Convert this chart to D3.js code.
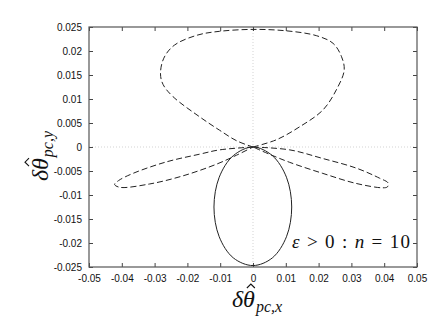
<!DOCTYPE html>
<html>
<head>
<meta charset="utf-8">
<script src="https://cdn.jsdelivr.net/npm/d3@7"></script>
<style>
  body { margin: 0; background: #fff; }
  svg { display: block; }
</style>
</head>
<body>
<div id="chart"></div>
<script>
var width = 436;
var height = 327;
var plotLeft = 89, plotRight = 417, plotTop = 27, plotBottom = 267;

var xTicks = [-0.05, -0.04, -0.03, -0.02, -0.01, 0, 0.01, 0.02, 0.03, 0.04, 0.05];
var xTickLabels = ["-0.05", "-0.04", "-0.03", "-0.02", "-0.01", "0", "0.01", "0.02", "0.03", "0.04", "0.05"];
var yTicks = [0.025, 0.02, 0.015, 0.01, 0.005, 0, -0.005, -0.01, -0.015, -0.02, -0.025];
var yTickLabels = ["0.025", "0.02", "0.015", "0.01", "0.005", "0", "-0.005", "-0.01", "-0.015", "-0.02", "-0.025"];

// dashed petal above the origin
var upperLobe = [[0, 0], [0.0071, 0.0015], [0.0142, 0.0042], [0.0213, 0.0077], [0.0254, 0.0119],
	[0.0278, 0.0160], [0.0270, 0.0188], [0.0244, 0.0216], [0.0193, 0.0232], [0.0102, 0.0242],
	[0, 0.0245], [-0.0102, 0.0241], [-0.0170, 0.0233], [-0.0240, 0.0212], [-0.0272, 0.0185],
	[-0.0282, 0.0152], [-0.0274, 0.0130], [-0.0244, 0.0105], [-0.0163, 0.0063], [-0.0102, 0.0035],
	[-0.0050, 0.0013], [0, 0]];
// dashed petals below the origin
var leftLobe = [[0, 0], [-0.0102, -0.0006], [-0.0163, -0.0015], [-0.0264, -0.0031], [-0.0366, -0.0055],
	[-0.0410, -0.0070], [-0.0422, -0.0078], [-0.0406, -0.0084], [-0.0315, -0.0077], [-0.0213, -0.0060],
	[-0.0112, -0.0036], [-0.0050, -0.0017], [0, 0]];
var rightLobe = [[0, 0], [0.0112, -0.0006], [0.0213, -0.0024], [0.0315, -0.0044], [0.0386, -0.0065],
	[0.0412, -0.0075], [0.0410, -0.0083], [0.0396, -0.0085], [0.0315, -0.0076], [0.0213, -0.0055],
	[0.0112, -0.0032], [0.0050, -0.0015], [0, 0]];
// solid loop
var solidLoop = [[0, 0], [0.0059, -0.0018], [0.0102, -0.0063], [0.0118, -0.0125], [0.0102, -0.0187],
	[0.0059, -0.0231], [0, -0.0247], [-0.0060, -0.0231], [-0.0103, -0.0187], [-0.0119, -0.0125],
	[-0.0103, -0.0063], [-0.0060, -0.0018]];

var svg = d3.select("#chart").append("svg")
	.attr("width", width)
	.attr("height", height);

var x = d3.scaleLinear().domain([-0.05, 0.05]).range([plotLeft, plotRight]);
var y = d3.scaleLinear().domain([-0.025, 0.025]).range([plotBottom, plotTop]);

// zero lines
svg.append("line")
	.attr("x1", x(0)).attr("x2", x(0)).attr("y1", plotTop).attr("y2", plotBottom)
	.attr("stroke", "#c8c8c8").attr("stroke-width", 0.8).attr("stroke-dasharray", "1,2");
svg.append("line")
	.attr("x1", plotLeft).attr("x2", plotRight).attr("y1", y(0)).attr("y2", y(0))
	.attr("stroke", "#c8c8c8").attr("stroke-width", 0.8).attr("stroke-dasharray", "1,2");

// axes with inward ticks
function styleAxis(g)
{
	g.select(".domain").remove();
	g.selectAll(".tick line").attr("stroke", "#444");
	g.selectAll(".tick text")
		.attr("fill", "#111")
		.style("font-family", "'Liberation Sans', Arial, sans-serif")
		.style("font-size", "10px");
}

svg.append("g")
	.attr("transform", "translate(0," + plotBottom + ")")
	.call(d3.axisBottom(x).tickValues(xTicks).tickSize(-4).tickPadding(8)
		.tickFormat(function (d, i) { return xTickLabels[i]; }))
	.call(styleAxis);
svg.append("g")
	.attr("transform", "translate(0," + plotTop + ")")
	.call(d3.axisTop(x).tickValues(xTicks).tickSize(-4).tickFormat(""))
	.call(styleAxis);
svg.append("g")
	.attr("transform", "translate(" + plotLeft + ",0)")
	.call(d3.axisLeft(y).tickValues(yTicks).tickSize(-4).tickPadding(7)
		.tickFormat(function (d, i) { return yTickLabels[i]; }))
	.call(styleAxis);
svg.append("g")
	.attr("transform", "translate(" + plotRight + ",0)")
	.call(d3.axisRight(y).tickValues(yTicks).tickSize(-4).tickFormat(""))
	.call(styleAxis);

// frame
svg.append("rect")
	.attr("x", plotLeft).attr("y", plotTop)
	.attr("width", plotRight - plotLeft).attr("height", plotBottom - plotTop)
	.attr("fill", "none").attr("stroke", "#555").attr("stroke-width", 1.2);

var openLine = d3.line()
	.x(function (d) { return x(d[0]); })
	.y(function (d) { return y(d[1]); })
	.curve(d3.curveCatmullRom.alpha(0.5));
var closedLine = d3.line()
	.x(function (d) { return x(d[0]); })
	.y(function (d) { return y(d[1]); })
	.curve(d3.curveCatmullRomClosed.alpha(0.5));

svg.selectAll("path.lobe")
	.data([upperLobe, leftLobe, rightLobe])
	.enter()
	.append("path")
	.attr("class", "lobe")
	.attr("d", openLine)
	.attr("fill", "none")
	.attr("stroke", "#222")
	.attr("stroke-width", 1)
	.attr("stroke-dasharray", "6,3");

svg.append("path")
	.attr("d", closedLine(solidLoop))
	.attr("fill", "none")
	.attr("stroke", "#222")
	.attr("stroke-width", 1);

// annotation
var note = svg.append("text")
	.attr("x", 292).attr("y", 248)
	.attr("textLength", 118).attr("lengthAdjust", "spacing")
	.style("font-family", "'Liberation Serif', 'DejaVu Serif', serif")
	.style("font-size", "19px")
	.attr("fill", "#111");
note.append("tspan").style("font-style", "italic").text("ε");
note.append("tspan").text(" > 0 : ");
note.append("tspan").style("font-style", "italic").text("n");
note.append("tspan").text(" = 10");

// axis titles: delta theta with a hat, and a subscript
function addTitle(g, sub)
{
	var font = "'Liberation Serif', 'DejaVu Serif', serif";
	var inner = g.append("g");
	var main = inner.append("text")
		.style("font-family", font).style("font-style", "italic").style("font-size", "24px")
		.attr("fill", "#111")
		.text("δθ");
	var w = main.node().getComputedTextLength();
	var subText = inner.append("text")
		.attr("x", w + 1).attr("y", 5)
		.style("font-family", font).style("font-style", "italic").style("font-size", "16px")
		.attr("fill", "#111")
		.text(sub);
	var sw = subText.node().getComputedTextLength();
	// hat over theta
	var cx = w - 4;
	inner.append("path")
		.attr("d", "M" + (cx - 4) + ",-19L" + cx + ",-23L" + (cx + 4) + ",-19")
		.attr("fill", "none").attr("stroke", "#111").attr("stroke-width", 1.1);
	inner.attr("transform", "translate(" + (-(w + 1 + sw) / 2) + ",0)");
}
addTitle(svg.append("g").attr("transform", "translate(257,307)"), "pc,x");
addTitle(svg.append("g").attr("transform", "translate(48,156) rotate(-90)"), "pc,y");
</script>
</body>
</html>
